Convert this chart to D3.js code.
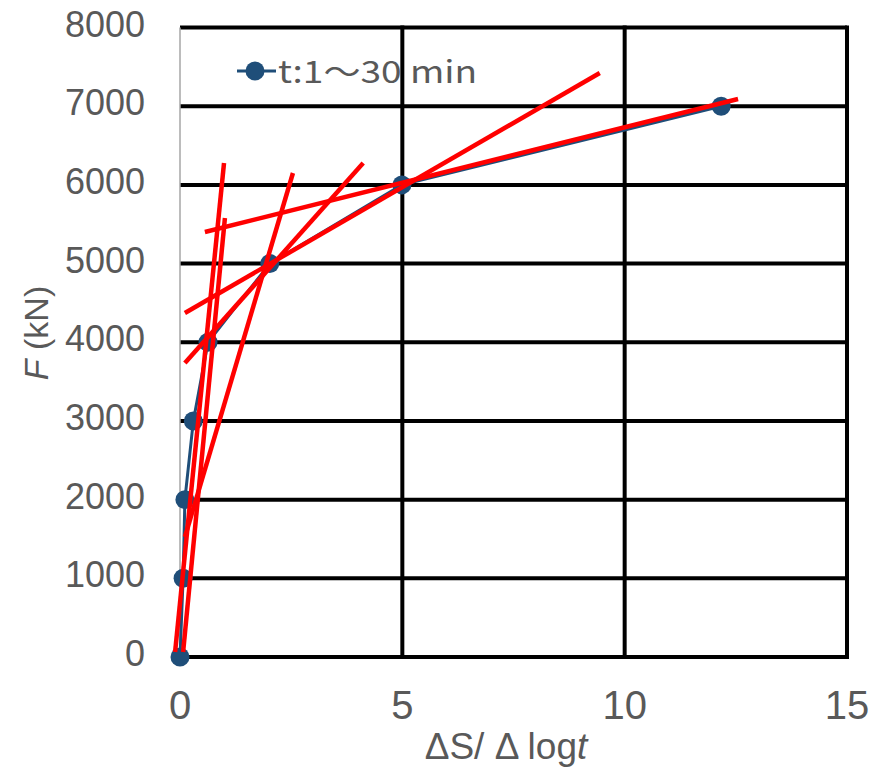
<!DOCTYPE html>
<html>
<head>
<meta charset="utf-8">
<script src="https://cdn.jsdelivr.net/npm/d3@7"></script>
<style>
  body { margin: 0; background: #fff; }
  text { font-family: "Liberation Sans", Arial, sans-serif; fill: #595959; }
</style>
</head>
<body>
<svg id="chart"></svg>
<script>
// measured series: dS/dlogt vs load
const slopeVals = [0, 0.07, 0.11, 0.3, 0.63, 2.02, 4.99, 12.17];
const loadVals = [0, 1000, 2000, 3000, 4000, 5000, 6000, 7000];

// red tangent lines, [x1, F1, x2, F2]
const fitLines = [
   [-0.11, 64, 0.99, 6278],
   [0.07, 64, 1.01, 5579],
   [0.11, 1525, 2.54, 6151],
   [0.11, 3736, 4.12, 6278],
   [0.11, 4372, 9.44, 7422],
   [0.56, 5401, 12.55, 7091]
];

const xTicks = [0, 5, 10, 15];
const yTicks = [0, 1000, 2000, 3000, 4000, 5000, 6000, 7000, 8000];
const legendLabel = 't:1～30 min';

const width = 874, height = 773;
const svg = d3.select('#chart').attr('width', width).attr('height', height);

const x = d3.scaleLinear().domain([0, 15]).range([180, 847]);
const y = d3.scaleLinear().domain([0, 8000]).range([657, 27.5]);

// grid
svg.append('g').selectAll('line.h')
   .data(yTicks)
   .join('line')
   .attr('x1', x(0)).attr('x2', x(15))
   .attr('y1', d => y(d)).attr('y2', d => y(d))
   .style('stroke', '#000').style('stroke-width', 4);

svg.append('g').selectAll('line.v')
   .data(xTicks.filter(d => d > 0))
   .join('line')
   .attr('x1', d => x(d)).attr('x2', d => x(d))
   .attr('y1', y(8000) - 2).attr('y2', y(0) + 2)
   .style('stroke', '#000').style('stroke-width', 4);

svg.append('line')
   .attr('x1', x(0)).attr('x2', x(0))
   .attr('y1', y(8000)).attr('y2', y(0))
   .style('stroke', '#a6a6a6').style('stroke-width', 1.5);

// tick labels
svg.append('g').selectAll('text')
   .data(yTicks)
   .join('text')
   .attr('x', 145)
   .attr('y', d => y(d) + 9)
   .attr('text-anchor', 'end')
   .style('font-size', '36px')
   .text(d => d);

svg.append('g').selectAll('text')
   .data(xTicks)
   .join('text')
   .attr('x', d => x(d))
   .attr('y', 719)
   .attr('text-anchor', 'middle')
   .style('font-size', '40px')
   .text(d => d);

// axis titles
let xt = svg.append('text')
   .attr('x', 506).attr('y', 759)
   .attr('text-anchor', 'middle')
   .style('font-size', '37px');
xt.append('tspan').text('ΔS/ Δ log');
xt.append('tspan').style('font-style', 'italic').text('t');

let yt = svg.append('text')
   .attr('transform', 'translate(48,333) rotate(-90)')
   .attr('text-anchor', 'middle')
   .style('font-size', '34px');
yt.append('tspan').style('font-style', 'italic').text('F');
yt.append('tspan').text(' (kN)');

// series
const pts = slopeVals.map((v, i) => [v, loadVals[i]]);
const color = '#1f4e79';

svg.append('path')
   .datum(pts)
   .attr('d', d3.line().x(d => x(d[0])).y(d => y(d[1])))
   .style('fill', 'none')
   .style('stroke', color)
   .style('stroke-width', 3);

svg.append('g').selectAll('circle')
   .data(pts)
   .join('circle')
   .attr('cx', d => x(d[0]))
   .attr('cy', d => y(d[1]))
   .attr('r', 9.5)
   .style('fill', color);

// tangent lines on top
svg.append('g').selectAll('line')
   .data(fitLines)
   .join('line')
   .attr('x1', d => x(d[0])).attr('y1', d => y(d[1]))
   .attr('x2', d => x(d[2])).attr('y2', d => y(d[3]))
   .style('stroke', '#ff0000')
   .style('stroke-width', 4.5);

// legend
let lg = svg.append('g');
lg.append('line')
   .attr('x1', 237).attr('x2', 276).attr('y1', 71).attr('y2', 71)
   .style('stroke', color).style('stroke-width', 3);
lg.append('circle').attr('cx', 255).attr('cy', 71).attr('r', 9.5).style('fill', color);
lg.append('text')
   .attr('x', 278).attr('y', 83)
   .attr('textLength', 199)
   .attr('lengthAdjust', 'spacingAndGlyphs')
   .style('font-family', '"Noto Sans CJK JP", "Liberation Sans", sans-serif')
   .style('font-size', '31px')
   .text(legendLabel);
</script>
</body>
</html>
